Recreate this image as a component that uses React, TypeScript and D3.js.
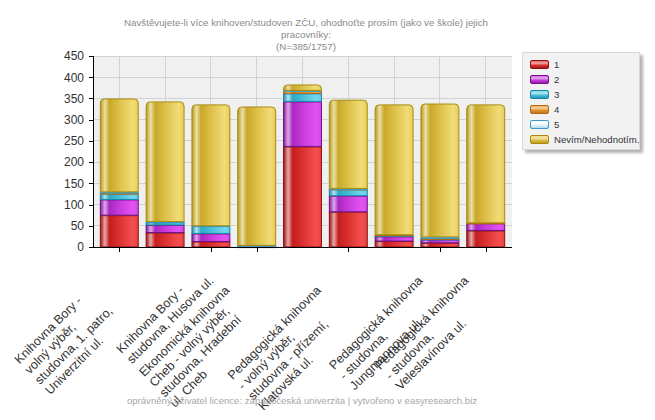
import React, { useEffect, useRef } from "react";
import * as d3 from "d3";

const titleLines = [
  "Navštěvujete-li více knihoven/studoven ZČU, ohodnoťte prosím (jako ve škole) jejich",
  "pracovníky:",
  "(N=385/1757)",
];
const footer = "oprávněný uživatel licence: západočeská univerzita | vytvořeno v easyresearch.biz";

// category labels (lines); empty = no tick/label shown in the original
const categoryLabels: string[][] = [
  ["Knihovna Bory -", "volný výběr,", "studovna, 1. patro,", "Univerzitní ul."],
  [],
  ["Knihovna Bory -", "studovna, Husova ul."],
  ["Ekonomická knihovna", "Cheb - volný výběr,", "studovna, Hradební", "ul. Cheb"],
  [],
  ["Pedagogická knihovna", "- volný výběr,", "studovna - přízemí,", "Klatovská ul."],
  [],
  ["Pedagogická knihovna", "- studovna,", "Jungmannova ul."],
  ["Pedagogická knihovna", "- studovna,", "Veleslavínova ul."],
];

const seriesNames = ["1", "2", "3", "4", "5", "Nevím/Nehodnotím."];
const s1 = [75, 34, 13, 1, 237, 83, 14, 10, 39];
const s2 = [37, 18, 19, 2, 106, 38, 11, 8, 17];
const s3 = [14, 6, 18, 0, 19, 15, 3, 1, 0];
const s4 = [1, 0, 0, 0, 6, 1, 1, 1, 1];
const s5 = [3, 2, 0, 1, 1, 1, 0, 4, 0];
const sN = [220, 283, 286, 327, 14, 209, 307, 314, 279];
const yTicks = [0, 50, 100, 150, 200, 250, 300, 350, 400, 450];

const palettes = [
  { border: "#8e1010", stops: ["#9c1414", "#e8a8a8", "#c41e1e", "#dc3030", "#f45050", "#e84040"] },
  { border: "#70108a", stops: ["#8a18a0", "#dcaae6", "#a828c0", "#c83ada", "#e254f2", "#d448e6"] },
  { border: "#1488a8", stops: ["#2090b0", "#b4e4ee", "#30a8c8", "#48bcd8", "#74d8ec", "#60cce4"] },
  { border: "#b46810", stops: ["#c07018", "#f0d0a0", "#d08020", "#e09030", "#f4a848", "#e89838"] },
  { border: "#3a9cc0", stops: ["#a8d8e8", "#ffffff", "#c8eaf4", "#dcf2f8", "#f4fcff", "#e4f4fa"] },
  { border: "#a88c10", stops: ["#b89818", "#ece0a8", "#c8a828", "#dcc048", "#f2dc78", "#e6cc58"] },
];

export default function App() {
  const ref = useRef<SVGSVGElement | null>(null);

  useEffect(() => {
    const svg = d3.select(ref.current);
    svg.selectAll("*").remove();
    const font = "'Liberation Sans', Arial, Helvetica, sans-serif";

    const data = [s1, s2, s3, s4, s5, sN];
    const idx = d3.range(categoryLabels.length);
    const left = 93, right = 512, top = 56, bottom = 247;

    const x = d3.scaleBand<number>().domain(idx).range([left, right]).paddingInner(0.15).paddingOuter(0.149);
    const y = d3.scaleLinear().domain([0, 450]).range([bottom, top]);

    const defs = svg.append("defs");
    palettes.forEach((p, i) => {
      const g = defs.append("linearGradient").attr("id", "g" + i).attr("x1", 0).attr("x2", 1).attr("y1", 0).attr("y2", 0);
      const offs = [0, 0.12, 0.24, 0.5, 0.86, 1];
      p.stops.forEach((c, k) => g.append("stop").attr("offset", offs[k]).attr("stop-color", c));
      const gv = defs.append("linearGradient").attr("id", "gv" + i).attr("x1", 0).attr("x2", 0).attr("y1", 0).attr("y2", 1);
      gv.append("stop").attr("offset", 0).attr("stop-color", p.stops[4]);
      gv.append("stop").attr("offset", 0.35).attr("stop-color", p.stops[1]);
      gv.append("stop").attr("offset", 0.6).attr("stop-color", p.stops[3]);
      gv.append("stop").attr("offset", 1).attr("stop-color", p.stops[0]);
    });
    const blur = defs.append("filter").attr("id", "sh").attr("x", -0.1).attr("y", -0.1).attr("width", 1.3).attr("height", 1.3);
    blur.append("feGaussianBlur").attr("stdDeviation", 1.5);

    // title
    svg.append("g").selectAll("text").data(titleLines).join("text")
      .attr("x", 306).attr("y", (_, i) => 25.5 + i * 12)
      .attr("text-anchor", "middle").attr("font-family", font).attr("font-size", 9.75)
      .attr("fill", "#8a8a8a").text(d => d);

    // plot background
    svg.append("rect").attr("x", left).attr("y", top).attr("width", right - left).attr("height", bottom - top).attr("fill", "#f0f0f0");

    // grid
    svg.append("g").selectAll("line").data(yTicks.slice(1)).join("line")
      .attr("x1", left).attr("x2", right).attr("y1", d => y(d)).attr("y2", d => y(d))
      .attr("stroke", "#d2d2d2").attr("stroke-width", 1).attr("shape-rendering", "crispEdges");
    svg.append("g").selectAll("line").data(idx).join("line")
      .attr("x1", d => x(d)! + x.bandwidth() / 2).attr("x2", d => x(d)! + x.bandwidth() / 2)
      .attr("y1", top).attr("y2", bottom)
      .attr("stroke", "#d2d2d2").attr("stroke-width", 1).attr("shape-rendering", "crispEdges");

    // bars
    const stacked = d3.stack<number>().keys(d3.range(6).map(String)).value((i, k) => data[+k][i])(idx);
    const bw = x.bandwidth();
    const bars = svg.append("g");
    idx.forEach(ci => {
      let topSeries = -1;
      data.forEach((s, si) => { if (s[ci] > 0) topSeries = si; });
      stacked.forEach((layer, si) => {
        const seg = layer[ci];
        if (data[si][ci] <= 0) return;
        const x0 = x(ci)! + 0.5, x1 = x0 + bw - 1;
        const yt = y(seg[1]) + 0.5, yb = y(seg[0]);
        const p = palettes[si];
        if (si === topSeries) {
          const r = 4;
          const path = `M${x0},${yb} L${x0},${yt + r} Q${x0},${yt} ${x0 + r},${yt} L${x1 - r},${yt} Q${x1},${yt} ${x1},${yt + r} L${x1},${yb} Z`;
          bars.append("path").attr("d", path).attr("fill", `url(#g${si})`).attr("stroke", p.border).attr("stroke-width", 1);
        } else {
          bars.append("rect").attr("x", x0).attr("y", yt).attr("width", x1 - x0).attr("height", Math.max(0.5, yb - yt))
            .attr("fill", `url(#g${si})`).attr("stroke", p.border).attr("stroke-width", 1);
        }
      });
    });

    // axes
    svg.append("line").attr("x1", left).attr("x2", right).attr("y1", bottom + 0.5).attr("y2", bottom + 0.5).attr("stroke", "#000");
    svg.append("line").attr("x1", left + 0.5).attr("x2", left + 0.5).attr("y1", top).attr("y2", bottom + 1).attr("stroke", "#000");
    const yg = svg.append("g");
    yTicks.forEach(t => {
      yg.append("line").attr("x1", left - 4).attr("x2", left).attr("y1", Math.round(y(t)) + 0.5).attr("y2", Math.round(y(t)) + 0.5).attr("stroke", "#000");
      yg.append("text").attr("x", left - 9).attr("y", y(t)).attr("dy", "0.36em").attr("text-anchor", "end")
        .attr("font-family", font).attr("font-size", 12).attr("fill", "#333").text(String(t));
    });

    // x ticks and rotated labels
    const xg = svg.append("g");
    idx.forEach(ci => {
      const lines = categoryLabels[ci];
      if (!lines.length) return;
      const cx = x(ci)! + bw / 2;
      xg.append("line").attr("x1", Math.round(cx) + 0.5).attr("x2", Math.round(cx) + 0.5).attr("y1", bottom).attr("y2", bottom + 5).attr("stroke", "#000");
      const g = xg.append("g").attr("transform", `translate(${cx},${bottom}) rotate(-45)`);
      const t = g.append("text").attr("font-family", font).attr("font-size", 12.5).attr("fill", "#333");
      lines.forEach((l, i) => t.append("tspan").attr("x", 0).attr("y", 12.5 + i * 14.5).text(l));
      const w = d3.max(t.selectAll<SVGTSpanElement, unknown>("tspan").nodes(), n => n.getComputedTextLength()) || 0;
      const xEnd = 6 - 14 * lines.length;
      t.selectAll("tspan").attr("x", xEnd - w);
    });

    // legend
    const lg = svg.append("g").attr("transform", "translate(522,52)");
    lg.append("rect").attr("x", 3).attr("y", 3).attr("width", 118).attr("height", 98).attr("fill", "#000").attr("opacity", 0.3).attr("filter", "url(#sh)");
    lg.append("rect").attr("x", 0.5).attr("y", 0.5).attr("width", 117).attr("height", 97).attr("fill", "#f2f2f2").attr("stroke", "#d8d8d8");
    seriesNames.forEach((n, i) => {
      const cy = 13 + i * 15;
      lg.append("rect").attr("x", 8.5).attr("y", cy - 4.5).attr("width", 18).attr("height", 8).attr("rx", 1.5)
        .attr("fill", `url(#gv${i})`).attr("stroke", palettes[i].border);
      lg.append("text").attr("x", 32).attr("y", cy).attr("dy", "0.36em").attr("font-family", font).attr("font-size", 9.6)
        .attr("fill", "#333").text(n);
    });

    // footer
    svg.append("text").attr("x", 302).attr("y", 403.5).attr("text-anchor", "middle").attr("font-family", font)
      .attr("font-size", 9.6).attr("fill", "#a8a8a8").text(footer);
  }, []);

  return (
    <svg ref={ref} width={655} height={420} style={{ position: "absolute", left: 0, top: 0, background: "#fff" }} />
  );
}
